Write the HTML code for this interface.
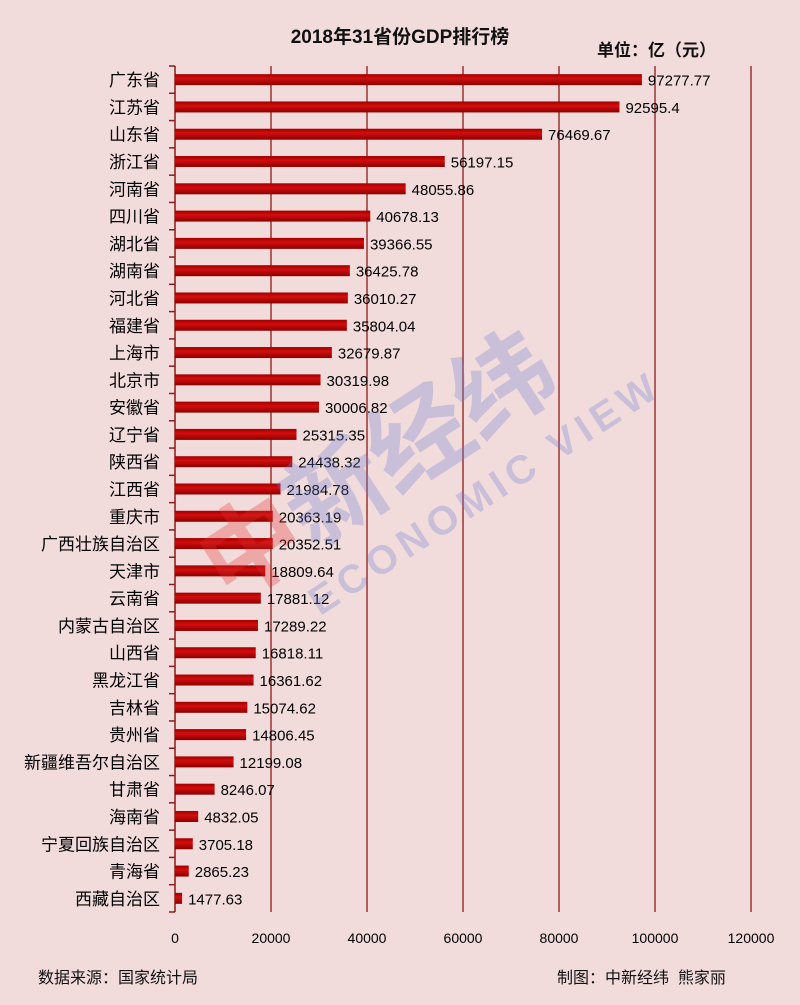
<!DOCTYPE html>
<html><head><meta charset="utf-8"><style>
body{margin:0;background:#f2dcdb;}
#c{position:relative;width:800px;height:1005px;background:#f2dcdb;overflow:hidden;font-family:"Liberation Sans","Noto Sans CJK SC",sans-serif;color:#111;}
.t{position:absolute;white-space:nowrap;}
</style></head><body><div id="c">
<div class="t" style="left:0;width:800px;text-align:center;top:22px;font-size:19px;font-weight:bold;">2018年31省份GDP排行榜</div>
<div class="t" style="left:597px;top:36px;font-size:17px;font-weight:bold;">单位：亿（元）</div>
<svg width="800" height="1005" style="position:absolute;left:0;top:0" id="s"></svg>
<div class="t" style="left:38px;top:964px;font-size:16px;">数据来源：国家统计局</div>
<div class="t" style="left:557px;top:964px;font-size:16px;">制图：中新经纬&nbsp;&nbsp;熊家丽</div>
</div>
<script>
(function(){
var d=[["广东省",97277.77],["江苏省",92595.4],["山东省",76469.67],["浙江省",56197.15],["河南省",48055.86],["四川省",40678.13],["湖北省",39366.55],["湖南省",36425.78],["河北省",36010.27],["福建省",35804.04],["上海市",32679.87],["北京市",30319.98],["安徽省",30006.82],["辽宁省",25315.35],["陕西省",24438.32],["江西省",21984.78],["重庆市",20363.19],["广西壮族自治区",20352.51],["天津市",18809.64],["云南省",17881.12],["内蒙古自治区",17289.22],["山西省",16818.11],["黑龙江省",16361.62],["吉林省",15074.62],["贵州省",14806.45],["新疆维吾尔自治区",12199.08],["甘肃省",8246.07],["海南省",4832.05],["宁夏回族自治区",3705.18],["青海省",2865.23],["西藏自治区",1477.63]];
var x0=175,k=0.0048,T0=66,rh=27.29,bot=T0+31*rh;
var h='<defs><linearGradient id="g" x1="0" y1="0" x2="0" y2="1"><stop offset="0" stop-color="#9e0000"/><stop offset="0.4" stop-color="#d40d0d"/><stop offset="1" stop-color="#8a0000"/></linearGradient></defs>';
for(var i=1;i<=6;i++){var x=x0+i*20000*k;h+='<line x1="'+x+'" y1="'+T0+'" x2="'+x+'" y2="'+bot+'" stroke="#8b1a1a" stroke-width="1.3"/>';}
for(var i=0;i<=6;i++){var x=x0+i*20000*k;h+='<text x="'+x+'" y="943" font-size="14" text-anchor="middle" font-family="Liberation Sans, sans-serif">'+(i*20000)+'</text>';}
h+='<line x1="'+x0+'" y1="'+T0+'" x2="'+x0+'" y2="'+bot+'" stroke="#8b1a1a" stroke-width="1.5"/>';
for(var i=0;i<=31;i++){var y=T0+i*rh;h+='<line x1="'+(x0-6)+'" y1="'+y+'" x2="'+x0+'" y2="'+y+'" stroke="#8b1a1a" stroke-width="1.5"/>';}
d.forEach(function(r,i){var c=T0+i*rh+rh/2,w=r[1]*k;
h+='<rect x="'+x0+'" y="'+(c-5.5)+'" width="'+w+'" height="11" fill="url(#g)"/>';
h+='<text x="'+(x0+w+6)+'" y="'+(c+6)+'" font-size="15" font-family="Liberation Sans, sans-serif">'+r[1]+'</text>';
h+='<text x="160" y="'+(c+6.5)+'" font-size="17" text-anchor="end" font-family="Liberation Sans, Noto Sans CJK SC, sans-serif">'+r[0]+'</text>';});
h+='<g transform="translate(380,470) rotate(-33)" opacity="0.3" font-weight="bold"><text x="-200" y="30" font-size="100" fill="#6f7fd6" font-family="Noto Sans CJK SC, sans-serif"><tspan fill="#e03030">中</tspan>新经纬</text><text x="-130" y="90" font-size="40" fill="#6f7fd6" letter-spacing="6" font-family="Liberation Sans, sans-serif">ECONOMIC VIEW</text></g>';
document.getElementById('s').innerHTML=h;
})();
</script></body></html>
